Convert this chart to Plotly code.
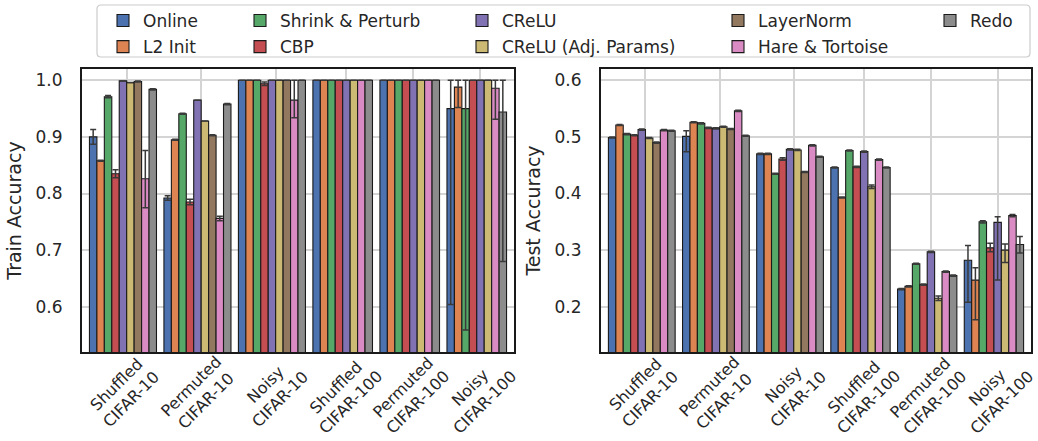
import plotly.graph_objects as go

# ---------------- data ----------------
groups = ["Shuffled<br>CIFAR-10", "Permuted<br>CIFAR-10", "Noisy<br>CIFAR-10",
          "Shuffled<br>CIFAR-100", "Permuted<br>CIFAR-100", "Noisy<br>CIFAR-100"]

methods = ["Online", "L2 Init", "Shrink & Perturb", "CBP", "CReLU",
           "CReLU (Adj. Params)", "LayerNorm", "Hare & Tortoise", "Redo"]

colors = ["#4C72B0", "#DD8452", "#55A868", "#C44E52", "#8172B3",
          "#CCB974", "#937860", "#DA8BC3", "#8C8C8C"]

# Train accuracy (None = method not run on that benchmark)
train_acc = {
    "Online":              [0.900, 0.792, 1.000, 1.000, 1.000, 0.950],
    "L2 Init":             [0.858, 0.895, 1.000, 1.000, 1.000, 0.988],
    "Shrink & Perturb":    [0.971, 0.941, 1.000, 1.000, 1.000, 0.950],
    "CBP":                 [0.835, 0.785, 0.994, 1.000, 1.000, 1.000],
    "CReLU":               [0.999, 0.965, 1.000, 1.000, 1.000, 1.000],
    "CReLU (Adj. Params)": [0.996, 0.928, 1.000, 1.000, 1.000, 1.000],
    "LayerNorm":           [0.998, 0.903, 1.000, None, None, None],
    "Hare & Tortoise":     [0.826, 0.756, 0.965, 1.000, 1.000, 0.986],
    "Redo":                [0.984, 0.958, 1.000, 1.000, 1.000, 0.944],
}
train_err_plus = {
    "Online":              [0.013, 0.004, 0.0, 0.0, 0.0, 0.050],
    "L2 Init":             [0.001, 0.001, 0.0, 0.0, 0.0, 0.012],
    "Shrink & Perturb":    [0.002, 0.001, 0.0, 0.0, 0.0, 0.050],
    "CBP":                 [0.007, 0.005, 0.003, 0.0, 0.0, 0.0],
    "CReLU":               [0.0, 0.0, 0.0, 0.0, 0.0, 0.0],
    "CReLU (Adj. Params)": [0.0, 0.0, 0.0, 0.0, 0.0, 0.0],
    "LayerNorm":           [0.001, 0.001, 0.0, None, None, None],
    "Hare & Tortoise":     [0.050, 0.004, 0.035, 0.0, 0.0, 0.014],
    "Redo":                [0.001, 0.001, 0.0, 0.0, 0.0, 0.056],
}
train_err_minus = {
    "Online":              [0.013, 0.004, 0.0, 0.0, 0.0, 0.346],
    "L2 Init":             [0.001, 0.001, 0.0, 0.0, 0.0, 0.036],
    "Shrink & Perturb":    [0.002, 0.001, 0.0, 0.0, 0.0, 0.391],
    "CBP":                 [0.007, 0.005, 0.003, 0.0, 0.0, 0.0],
    "CReLU":               [0.0, 0.0, 0.0, 0.0, 0.0, 0.0],
    "CReLU (Adj. Params)": [0.0, 0.0, 0.0, 0.0, 0.0, 0.0],
    "LayerNorm":           [0.001, 0.001, 0.0, None, None, None],
    "Hare & Tortoise":     [0.051, 0.004, 0.031, 0.0, 0.0, 0.055],
    "Redo":                [0.001, 0.001, 0.0, 0.0, 0.0, 0.264],
}

# Test accuracy
test_acc = {
    "Online":              [0.499, 0.501, 0.470, 0.446, 0.231, 0.282],
    "L2 Init":             [0.521, 0.526, 0.470, 0.393, 0.236, 0.247],
    "Shrink & Perturb":    [0.505, 0.524, 0.435, 0.476, 0.276, 0.350],
    "CBP":                 [0.503, 0.516, 0.461, 0.447, 0.239, 0.304],
    "CReLU":               [0.513, 0.515, 0.478, 0.474, 0.297, 0.349],
    "CReLU (Adj. Params)": [0.498, 0.518, 0.477, 0.412, 0.215, 0.300],
    "LayerNorm":           [0.490, 0.514, 0.438, None, None, None],
    "Hare & Tortoise":     [0.512, 0.546, 0.485, 0.460, 0.262, 0.361],
    "Redo":                [0.511, 0.502, 0.465, 0.446, 0.255, 0.310],
}
test_err_plus = {
    "Online":              [0.001, 0.010, 0.001, 0.001, 0.001, 0.026],
    "L2 Init":             [0.001, 0.001, 0.001, 0.001, 0.001, 0.022],
    "Shrink & Perturb":    [0.001, 0.001, 0.001, 0.001, 0.001, 0.002],
    "CBP":                 [0.001, 0.001, 0.002, 0.001, 0.001, 0.008],
    "CReLU":               [0.001, 0.001, 0.001, 0.001, 0.001, 0.010],
    "CReLU (Adj. Params)": [0.001, 0.001, 0.001, 0.003, 0.004, 0.011],
    "LayerNorm":           [0.001, 0.001, 0.001, None, None, None],
    "Hare & Tortoise":     [0.001, 0.001, 0.001, 0.001, 0.001, 0.002],
    "Redo":                [0.001, 0.001, 0.001, 0.001, 0.001, 0.014],
}
test_err_minus = {
    "Online":              [0.001, 0.027, 0.001, 0.001, 0.001, 0.074],
    "L2 Init":             [0.001, 0.001, 0.001, 0.001, 0.001, 0.070],
    "Shrink & Perturb":    [0.001, 0.001, 0.001, 0.001, 0.001, 0.002],
    "CBP":                 [0.001, 0.001, 0.002, 0.001, 0.001, 0.007],
    "CReLU":               [0.001, 0.001, 0.001, 0.001, 0.001, 0.102],
    "CReLU (Adj. Params)": [0.001, 0.001, 0.001, 0.003, 0.004, 0.022],
    "LayerNorm":           [0.001, 0.001, 0.001, None, None, None],
    "Hare & Tortoise":     [0.001, 0.001, 0.001, 0.001, 0.001, 0.002],
    "Redo":                [0.001, 0.001, 0.001, 0.001, 0.001, 0.015],
}

train_ticks = [0.6, 0.7, 0.8, 0.9, 1.0]
test_ticks = [0.2, 0.3, 0.4, 0.5, 0.6]

# ---------------- layout helpers ----------------
TXT = "#262626"
FONT = "DejaVu Sans"
legend_ids = ["legend", "legend", "legend2", "legend2", "legend3",
              "legend3", "legend4", "legend4", "legend5"]

# figure geometry (px)
FIG_W, FIG_H = 1038, 441
ML, MR, MT, MB = 82, 7, 69, 89
PW = FIG_W - ML - MR
PH = FIG_H - MT - MB


def px_x(px):
    return (px - ML) / PW


def px_y(py):
    return (FIG_H - MB - py) / PH


def slot_layout(acc):
    """Bars placed one slot each, a one-slot gap between benchmarks."""
    pos = {m: [] for m in methods}
    ticks = []
    cursor = 0
    for g in range(len(groups)):
        start = cursor
        for m in methods:
            if acc[m][g] is not None:
                pos[m].append(cursor)
                cursor += 1
        ticks.append((start + cursor - 1) / 2 + 0.5)
        cursor += 1
    return pos, ticks


fig = go.Figure()


def add_panel(acc, ep, em, xa, ya, show):
    pos, ticks = slot_layout(acc)
    for i, m in enumerate(methods):
        ys = [v for v in acc[m] if v is not None]
        ap = [v for v in ep[m] if v is not None]
        am = [v for v in em[m] if v is not None]
        fig.add_trace(go.Bar(
            x=pos[m], y=ys, width=1.0, name=m,
            marker=dict(color=colors[i], line=dict(color="#1a1a1a", width=1.1)),
            error_y=dict(type="data", symmetric=False, array=ap, arrayminus=am,
                         color="#3a3a3a", thickness=1.5, width=3),
            xaxis=xa, yaxis=ya, showlegend=show, legend=legend_ids[i],
            legendgroup=m,
        ))
    return ticks


ticks_l = add_panel(train_acc, train_err_plus, train_err_minus, "x", "y", True)
ticks_r = add_panel(test_acc, test_err_plus, test_err_minus, "x2", "y2", False)

n_slots = sum(sum(1 for v in train_acc[m] if v is not None) for m in methods) + len(groups) - 1
xrange_ = [-1.5, n_slots - 0.5 + 1.0]

axis_common = dict(showline=True, mirror=True, linecolor="#1a1a1a", linewidth=2,
                   showgrid=True, gridcolor="#d4d4d4", gridwidth=1.5, zeroline=False)

fig.update_layout(
    width=FIG_W, height=FIG_H,
    margin=dict(l=ML, r=MR, t=MT, b=MB, autoexpand=False),
    paper_bgcolor="white", plot_bgcolor="white",
    barmode="overlay",
    font=dict(family=FONT, size=16, color=TXT),
    xaxis=dict(domain=[0, px_x(514)], range=xrange_, tickvals=ticks_l,
               showticklabels=False, anchor="y", **axis_common),
    yaxis=dict(domain=[0, 1], range=[0.52, 1.02], tickvals=train_ticks,
               tickformat=".1f", ticks="outside", ticklen=14, tickcolor="rgba(0,0,0,0)",
               tickfont=dict(size=17), anchor="x",
               title=dict(text="Train Accuracy", font=dict(size=19), standoff=9),
               **axis_common),
    xaxis2=dict(domain=[px_x(601), 1], range=xrange_, tickvals=ticks_r,
                showticklabels=False, anchor="y2", **axis_common),
    yaxis2=dict(domain=[0, 1], range=[0.12, 0.62], tickvals=test_ticks,
                tickformat=".1f", ticks="outside", ticklen=14, tickcolor="rgba(0,0,0,0)",
                tickfont=dict(size=17), anchor="x2",
                title=dict(text="Test Accuracy", font=dict(size=19), standoff=9),
                **axis_common),
)

# rotated, centred benchmark labels (matplotlib-style)
anns = []
for xa, ticks in (("x", ticks_l), ("x2", ticks_r)):
    ya = "y" if xa == "x" else "y2"
    for t, lab in zip(ticks, groups):
        anns.append(dict(x=t, y=0, xref=xa, yref=ya + " domain", text=lab,
                         showarrow=False, xanchor="center", yanchor="top",
                         textangle=-45, yshift=1, xshift=-3, borderpad=0,
                         font=dict(size=16, color=TXT)))
fig.update_layout(annotations=anns)

# legend: five two-row columns inside one framed box
col_text_x = [145, 282, 504, 760, 972]
leg_names = ["legend", "legend2", "legend3", "legend4", "legend5"]
for name, tx in zip(leg_names, col_text_x):
    fig.update_layout({name: dict(
        xref="paper", yref="paper", x=px_x(tx - 42), y=px_y(3),
        xanchor="left", yanchor="top", orientation="v", bgcolor="rgba(0,0,0,0)",
        borderwidth=0, font=dict(size=17, color=TXT), traceorder="grouped",
        tracegroupgap=1, itemwidth=30)})

bx0, bx1 = px_x(97), px_x(1030)
by0, by1 = px_y(57), px_y(5)
rx, ry = 4 / PW, 4 / PH
path = (f"M {bx0+rx},{by1} L {bx1-rx},{by1} Q {bx1},{by1} {bx1},{by1-ry} "
        f"L {bx1},{by0+ry} Q {bx1},{by0} {bx1-rx},{by0} L {bx0+rx},{by0} "
        f"Q {bx0},{by0} {bx0},{by0+ry} L {bx0},{by1-ry} Q {bx0},{by1} {bx0+rx},{by1} Z")
fig.add_shape(type="path", path=path, xref="paper", yref="paper",
              line=dict(color="#cccccc", width=1.2), fillcolor="white", layer="above")

fig.write_html("out.html")
